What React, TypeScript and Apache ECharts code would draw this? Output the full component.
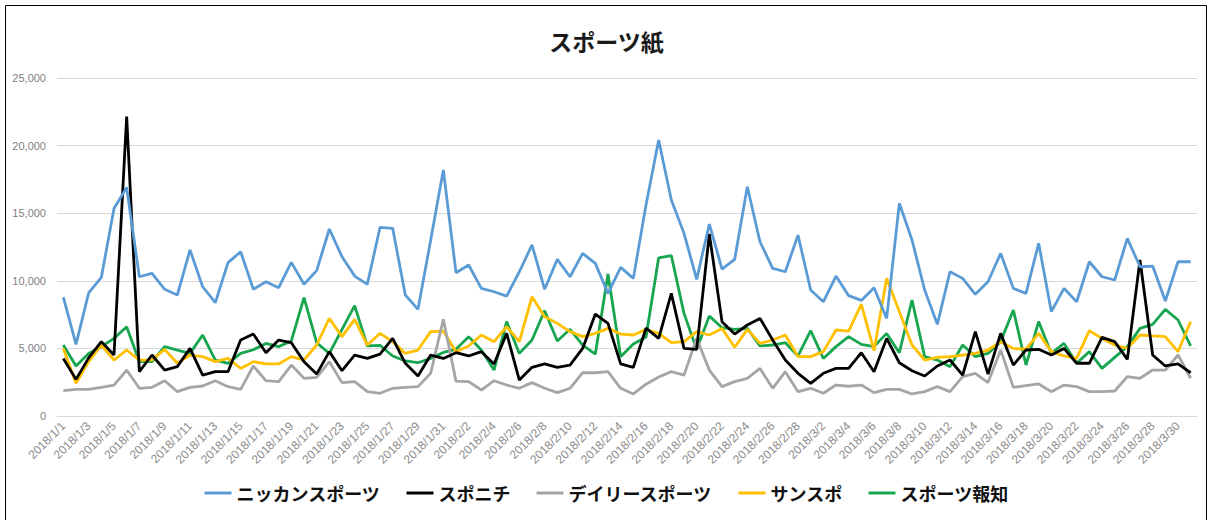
import React, { useEffect, useRef } from "react";
import * as echarts from "echarts";

const seriesNames = ["ニッカンスポーツ", "スポニチ", "デイリースポーツ", "サンスポ", "スポーツ報知"];

const nikkan = [8800, 5300, 9100, 10250, 15350, 16900, 10300, 10550, 9370, 8950, 12280, 9560, 8380, 11340, 12150, 9370, 9930, 9490, 11360, 9740, 10750, 13830, 11780, 10350, 9740, 13950, 13880, 8950, 7890, 13000, 18200, 10600, 11170, 9440, 9190, 8870, 10670, 12650, 9370, 11590, 10300, 12030, 11290, 9070, 10990, 10180, 15600, 20410, 15970, 13510, 10110, 14200, 10870, 11590, 16960, 12890, 10920, 10670, 13380, 9320, 8450, 10350, 8900, 8550, 9490, 7220, 15730, 13020, 9320, 6780, 10670, 10180, 9000, 9930, 12030, 9440, 9070, 12770, 7720, 9440, 8450, 11410, 10300, 10060, 13140, 11040, 11090, 8500, 11410, 11410];

const sponichi = [4260, 2710, 4300, 5500, 4510, 22140, 3280, 4510, 3400, 3650, 5000, 3030, 3280, 3280, 5620, 6060, 4680, 5620, 5420, 4020, 3100, 4760, 3350, 4510, 4260, 4580, 5740, 3900, 2960, 4510, 4260, 4680, 4440, 4760, 3850, 6110, 2660, 3600, 3850, 3600, 3770, 5000, 7540, 6850, 3850, 3600, 6500, 5740, 9070, 5000, 4930, 13460, 6980, 6060, 6730, 7220, 5620, 4140, 3160, 2420, 3160, 3520, 3520, 4680, 3280, 5740, 3940, 3350, 2960, 3700, 4140, 3030, 6240, 3100, 6110, 3770, 4880, 4930, 4510, 5000, 3900, 3900, 5820, 5500, 4190, 11540, 4510, 3700, 3850, 3200];

const daily = [1870, 1970, 1970, 2120, 2290, 3400, 2050, 2120, 2610, 1800, 2120, 2220, 2610, 2170, 1970, 3700, 2610, 2540, 3770, 2790, 2860, 4020, 2470, 2540, 1800, 1680, 2050, 2120, 2170, 3160, 7150, 2580, 2540, 1920, 2610, 2290, 2050, 2470, 2050, 1730, 2050, 3200, 3200, 3280, 2050, 1630, 2350, 2880, 3280, 3030, 5740, 3400, 2170, 2540, 2790, 3520, 2050, 3280, 1800, 2050, 1680, 2290, 2200, 2290, 1730, 1970, 1970, 1630, 1800, 2170, 1800, 2910, 3160, 2470, 4880, 2120, 2250, 2370, 1800, 2290, 2170, 1800, 1800, 1850, 2910, 2790, 3400, 3400, 4510, 2790];

const sansupo = [5000, 2420, 4020, 5250, 4140, 4880, 4140, 4140, 4930, 3900, 4510, 4390, 4020, 4260, 3520, 4020, 3850, 3850, 4390, 4140, 5250, 7220, 5870, 7150, 5250, 6110, 5500, 4630, 4880, 6240, 6280, 4750, 5180, 5990, 5500, 6610, 5500, 8820, 7350, 6850, 6240, 5870, 6110, 6480, 6060, 5990, 6400, 6110, 5420, 5500, 6240, 5990, 6480, 5080, 6410, 5370, 5620, 5990, 4390, 4390, 4760, 6360, 6280, 8270, 4830, 10180, 7720, 5250, 4140, 4340, 4390, 4510, 4630, 4880, 5500, 5000, 4940, 6110, 4760, 4440, 4260, 6310, 5740, 5250, 5000, 5990, 5920, 5870, 4760, 6980];

const hochi = [5250, 3700, 4630, 5130, 5740, 6600, 4020, 4020, 5130, 4880, 4630, 5990, 4140, 3900, 4630, 4900, 5370, 5130, 5550, 8750, 5420, 4630, 6410, 8160, 5180, 5230, 4440, 4070, 3940, 4260, 4700, 4930, 5870, 4880, 3400, 6980, 4630, 5620, 7790, 5550, 6410, 5250, 4580, 10500, 4390, 5320, 5850, 11700, 11860, 7590, 4930, 7400, 6530, 6410, 6480, 5180, 5250, 5420, 4440, 6310, 4260, 5130, 5870, 5300, 5130, 6110, 4680, 8580, 4390, 4140, 3650, 5250, 4390, 4630, 5500, 7840, 3770, 6980, 4630, 5370, 3900, 4760, 3520, 4340, 5130, 6480, 6780, 7890, 7100, 5180];

const monthDays = [
  [1, 31],
  [2, 28],
  [3, 31],
];
const categories: string[] = [];
for (const [m, n] of monthDays) {
  for (let d = 1; d <= n; d++) categories.push(`2018/${m}/${d}`);
}

const colors = ["#5b9bd5", "#000000", "#a5a5a5", "#ffc000", "#17a54f"];
const values = [nikkan, sponichi, daily, sansupo, hochi];

export default function App() {
  const ref = useRef<HTMLDivElement>(null);
  useEffect(() => {
    if (!ref.current) return;
    const chart = echarts.init(ref.current, undefined, { renderer: "svg" });
    chart.setOption({
      animation: false,
      backgroundColor: "#ffffff",
      title: {
        text: "スポーツ紙",
        left: "center",
        top: 24,
        textStyle: {
          fontFamily: "Noto Sans CJK JP",
          fontSize: 23,
          fontWeight: "bold",
          color: "#1a1a1a",
        },
      },
      graphic: [
        {
          type: "rect",
          shape: { x: 5.5, y: 5.5, width: 1201, height: 530 },
          style: { fill: "none", stroke: "#000000", lineWidth: 1 },
          silent: true,
        },
      ],
      legend: {
        bottom: 13,
        left: "center",
        itemWidth: 27,
        itemHeight: 3,
        itemGap: 26,
        icon: "rect",
        data: seriesNames,
        textStyle: {
          fontFamily: "Noto Sans CJK JP",
          fontSize: 18,
          fontWeight: "bold",
          color: "#111111",
        },
      },
      grid: { left: 57, right: 16, top: 78, bottom: 104, containLabel: false },
      xAxis: {
        type: "category",
        data: categories,
        boundaryGap: true,
        axisLine: { show: true, lineStyle: { color: "#d9d9d9", width: 1 } },
        axisTick: { show: false },
        axisLabel: {
          interval: 1,
          rotate: 45,
          fontSize: 12,
          color: "#8c8c8c",
          fontFamily: "Liberation Sans",
          margin: 8,
        },
      },
      yAxis: {
        type: "value",
        min: 0,
        max: 25000,
        interval: 5000,
        axisLine: { show: false },
        axisTick: { show: false },
        splitLine: { lineStyle: { color: "#d9d9d9", width: 1 } },
        axisLabel: {
          fontSize: 11,
          color: "#7f7f7f",
          fontFamily: "Liberation Sans",
          margin: 11,
          formatter: (v: number) => v.toLocaleString("en-US"),
        },
      },
      series: seriesNames.map((name, i) => ({
        name,
        type: "line",
        data: values[i],
        symbol: "none",
        color: colors[i],
        lineStyle: { width: 2.8, color: colors[i] },
        z: 10 - i,
      })),
    });
    return () => chart.dispose();
  }, []);
  return (
    <div
      ref={ref}
      style={{ position: "absolute", left: 0, top: 0, width: 1213, height: 520 }}
    />
  );
}
